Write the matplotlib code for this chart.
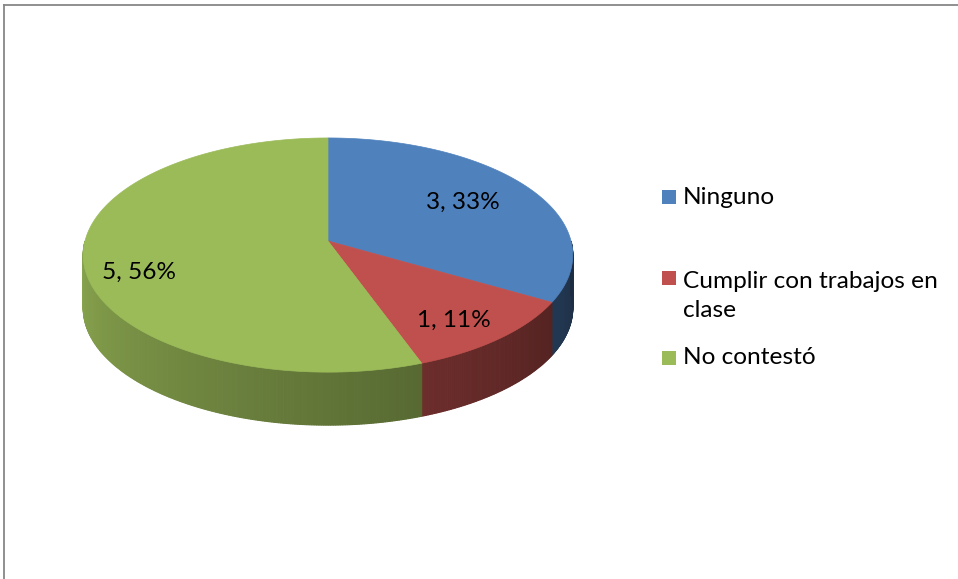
import numpy as np
import matplotlib.pyplot as plt
from matplotlib.patches import Polygon, Rectangle
from matplotlib.colors import to_rgb

# datos
categorias = ['Ninguno', 'Cumplir con trabajos en\nclase', 'No contestó']
valores = [3, 1, 5]
etiquetas = ['3, 33%', '1, 11%', '5, 56%']
colores = ['#4f81bd', '#c0504d', '#9bbb59']

W, H = 958, 579
fig = plt.figure(figsize=(W / 100, H / 100), dpi=100)
ax = fig.add_axes([0, 0, 1, 1])
ax.set_xlim(0, W)
ax.set_ylim(H, 0)
ax.axis('off')

fuente = 'Lato'
tam = 17.6

# geometria del pastel 3D en pixeles (proyeccion con perspectiva)
cx, cy = 328, 241          # centro del pastel
A, B, k = 243, 115.4, 0.12  # semiejes y factor de perspectiva
prof = 53                   # grosor


def punto(a, dy=0):
    r = np.radians(a)
    u, v = np.cos(r), np.sin(r)
    return cx + A * u / (1 + k * v), cy - B * v / (1 + k * v) + dy


total = sum(valores)
ang = 90.0
tramos = []
for v, c in zip(valores, colores):
    a1 = ang - 360.0 * v / total
    tramos.append((ang, a1, c))
    ang = a1

# caras laterales (solo la mitad frontal), con sombreado
for a0, a1, c in tramos:
    lo, hi = max(a1, -180), min(a0, 0)
    if lo >= hi:
        continue
    base = np.array(to_rgb(c))
    pasos = np.linspace(lo, hi, int((hi - lo) * 2) + 2)
    for s0, s1 in zip(pasos[:-1], pasos[1:]):
        f = 0.9 - 0.55 * ((s0 + s1) / 2 + 180) / 180
        col = np.clip(base * f, 0, 1)
        pts = [punto(s0), punto(s1), punto(s1, prof), punto(s0, prof)]
        ax.add_patch(Polygon(pts, closed=True, facecolor=col, edgecolor=col,
                             lw=0.8, zorder=1))

# cara superior
for a0, a1, c in tramos:
    arco = [punto(a) for a in np.linspace(a0, a1, 200)]
    ax.add_patch(Polygon([(cx, cy)] + arco, closed=True, facecolor=c,
                         edgecolor=c, lw=0.5, zorder=2))

# etiquetas de datos
pos_etq = [(463, 202), (454, 320), (139, 272)]
for (x, y), t in zip(pos_etq, etiquetas):
    ax.text(x, y, t, ha='center', va='center', fontsize=tam,
            family=fuente, color='black', zorder=3)

# leyenda
pos_ley = [197, 296, 358]
for y, c, t in zip(pos_ley, colores, categorias):
    ys = y if '\n' not in t else 278
    ax.add_patch(Rectangle((662, ys - 7), 14, 14, facecolor=c,
                           edgecolor='none'))
    ax.text(683, y, t, ha='left', va='center', fontsize=tam, family=fuente,
            linespacing=1.5)

# borde del grafico
ax.plot([4.5, 4.5], [5, H], color='#878787', lw=1.3, clip_on=False)
ax.plot([4, W], [5, 5], color='#878787', lw=1.3, clip_on=False)

fig.savefig('out.png', dpi=100)
